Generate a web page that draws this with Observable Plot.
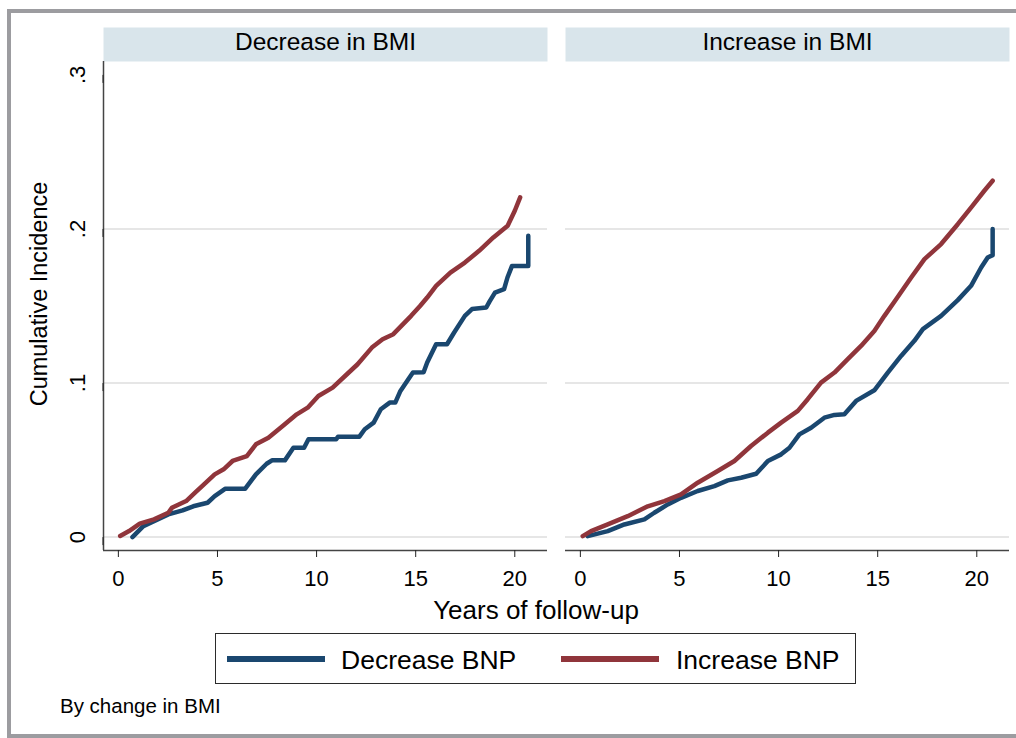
<!DOCTYPE html>
<html>
<head>
<meta charset="utf-8">
<script src="https://cdn.jsdelivr.net/npm/d3@7"></script>
<script src="https://cdn.jsdelivr.net/npm/@observablehq/plot@0.6"></script>
<style>
  html, body { margin: 0; padding: 0; background: #fff; width: 1016px; height: 738px; overflow: hidden;
    font-family: "Liberation Sans", Arial, Helvetica, sans-serif; }
  #page { position: relative; width: 1016px; height: 738px; overflow: hidden; }
  #frame { position: absolute; left: 7px; top: 9px; width: 1040px; height: 729px; box-sizing: border-box;
    border: 4px solid #9c9ca0; }
  #chart { position: absolute; left: 0; top: 0; }
  .t { position: absolute; line-height: 1; white-space: nowrap; color: #000; }
  #legend { position: absolute; left: 215px; top: 633px; width: 641px; height: 51px; box-sizing: border-box;
    border: 1.5px solid #2b2b2b; background: #fff; }
  .sw { position: absolute; height: 6px; width: 98px; top: 656px; }
</style>
</head>
<body>
<div id="page">
  <div id="frame"></div>
  <div id="chart"></div>
  <div id="xtitle" class="t" style="left:336px;width:400px;text-align:center;top:597px;font-size:26px;"></div>
  <div id="legend"></div>
  <div id="sw0" class="sw" style="left:227px;"></div>
  <div id="lg0" class="t" style="left:341px;top:647px;font-size:26.5px;"></div>
  <div id="sw1" class="sw" style="left:561px;"></div>
  <div id="lg1" class="t" style="left:676px;top:647px;font-size:26.5px;"></div>
  <div id="caption" class="t" style="left:60px;top:696px;font-size:20.5px;"></div>
</div>
<script>
// ---- labels, categories, ticks ----
const panels = ["Decrease in BMI", "Increase in BMI"];
const seriesNames = ["Decrease BNP", "Increase BNP"];
const seriesColors = ["#1a476f", "#90353b"];
const xTicks = [0, 5, 10, 15, 20];
const yTicks = [0, 0.1, 0.2, 0.3];
const yTickLabels = ["0", ".1", ".2", ".3"];
const gridTicks = [0, 0.1, 0.2];
const xDomain = [-0.75, 21.65];
const yDomain = [-0.0087, 0.3087];
const xTitle = "Years of follow-up";
const yTitle = "Cumulative Incidence";
const captionText = "By change in BMI";

// ---- series values: [years, cumulative incidence] ----
const decBMI_decBNP = [[0.71,0],[1.26,0.0071],[2.52,0.0147],[3.24,0.0173],[3.78,0.020],[4.5,0.0223],[4.86,0.0266],
  [5.4,0.0314],[6.4,0.0314],[6.94,0.0407],[7.48,0.0476],[7.75,0.0498],[8.4,0.0498],[8.83,0.058],[9.37,0.058],
  [9.59,0.0635],[10.99,0.0635],[11.08,0.0652],[12.16,0.0652],[12.43,0.070],[12.88,0.0743],[13.24,0.083],
  [13.69,0.0873],[13.97,0.0873],[14.23,0.0949],[14.68,0.1035],[14.86,0.1068],[15.4,0.107],[15.58,0.1133],
  [16.03,0.1252],[16.58,0.1252],[16.94,0.1328],[17.48,0.1436],[17.84,0.148],[18.56,0.149],[18.73,0.153],
  [19.0,0.1587],[19.46,0.1609],[19.63,0.1685],[19.86,0.176],[20.68,0.176],[20.68,0.1956]];
const decBMI_incBNP = [[0.09,0.0007],[0.54,0.0039],[1.08,0.0087],[1.8,0.0115],[2.52,0.0158],[2.7,0.019],
  [3.42,0.0234],[3.87,0.0288],[4.32,0.0342],[4.86,0.0407],[5.31,0.044],[5.76,0.0494],[6.48,0.0526],[6.94,0.0602],
  [7.57,0.0645],[8.29,0.0721],[9.0,0.0797],[9.55,0.084],[10.09,0.0916],[10.81,0.097],[11.53,0.1057],[12.07,0.1122],
  [12.79,0.123],[13.33,0.1284],[13.87,0.1317],[14.77,0.1436],[15.22,0.150],[15.58,0.1555],[16.03,0.1631],
  [16.75,0.1717],[17.48,0.1782],[18.2,0.1858],[18.92,0.1945],[19.64,0.2021],[20.0,0.2118],[20.27,0.2205]];
const incBMI_decBNP = [[0.37,0.0006],[1.38,0.0039],[2.22,0.0082],[3.23,0.0115],[3.73,0.0158],[4.41,0.0212],
  [5.08,0.0255],[5.92,0.0299],[6.76,0.0331],[7.44,0.0368],[8.11,0.0385],[8.87,0.0411],[9.46,0.0494],[10.13,0.0537],
  [10.55,0.058],[11.05,0.0667],[11.64,0.071],[12.31,0.0775],[12.82,0.0793],[13.32,0.0797],[13.91,0.0884],
  [14.83,0.0953],[15.51,0.1068],[16.18,0.1176],[16.85,0.1274],[17.28,0.135],[18.2,0.1436],[19.04,0.1538],
  [19.71,0.1631],[20.22,0.175],[20.55,0.1815],[20.8,0.183],[20.8,0.2]];
const incBMI_incBNP = [[0.12,0.0006],[0.54,0.0039],[1.38,0.0082],[2.39,0.0136],[3.4,0.02],[4.24,0.0234],
  [5.08,0.0277],[5.92,0.0353],[6.93,0.0429],[7.77,0.0494],[8.61,0.0591],[9.46,0.0678],[10.13,0.0743],
  [10.97,0.0819],[11.47,0.0895],[12.14,0.1003],[12.82,0.1068],[13.49,0.1155],[14.16,0.1241],[14.83,0.1338],
  [15.34,0.1436],[15.93,0.1544],[16.69,0.1685],[17.36,0.1804],[18.2,0.1902],[19.04,0.2031],[19.71,0.2139],
  [20.38,0.2248],[20.8,0.2313]];

// ---- build the table for the library ----
const rows = [];
function add(panel, series, pts) { for (const [t, v] of pts) rows.push({panel, series, t, v}); }
add(panels[0], seriesNames[0], decBMI_decBNP);
add(panels[1], seriesNames[0], incBMI_decBNP);
add(panels[0], seriesNames[1], decBMI_incBNP);
add(panels[1], seriesNames[1], incBMI_incBNP);

const chart = Plot.plot({
  width: 1016,
  height: 600,
  marginLeft: 103,
  marginRight: 7,
  marginTop: 61,
  marginBottom: 50,
  style: {fontFamily: '"Liberation Sans", Arial, Helvetica, sans-serif', background: "transparent", color: "#000"},
  fx: {domain: panels, paddingInner: 18 / 462, paddingOuter: 0, axis: null},
  x: {domain: xDomain},
  y: {domain: yDomain},
  color: {domain: seriesNames, range: seriesColors},
  marks: [
    Plot.frame({fill: "#d9e5eb", stroke: "none", insetTop: -34, insetBottom: 489}),
    Plot.text(panels, {fx: d => d, text: d => d, frameAnchor: "top", lineAnchor: "middle", textAnchor: "middle",
      dy: -19, fontSize: 24.5, fill: "#000"}),
    Plot.gridY(gridTicks, {stroke: "#e6e6e6", strokeOpacity: 1, strokeWidth: 2}),
    Plot.ruleY([yDomain[0]], {stroke: "#444", strokeWidth: 1.5}),
    Plot.ruleX([{fx: panels[0], x: xDomain[0]}], {fx: "fx", x: "x", stroke: "#444", strokeWidth: 1.5}),
    Plot.axisX({ticks: xTicks, tickSize: 7, tickPadding: 13, fontSize: 22, label: null, stroke: "#222", fill: "#000"}),
    Plot.axisY({ticks: yTicks, tickFormat: d => yTickLabels[yTicks.indexOf(d)], tickSize: 8, tickPadding: 18,
      fontSize: 22, rotate: -90, textAnchor: "middle", lineAnchor: "middle", label: null, stroke: "#222", fill: "#000",
      facetAnchor: "left"}),
    Plot.text([{fx: panels[0], label: yTitle}], {fx: "fx", text: "label", frameAnchor: "left", rotate: -90,
      textAnchor: "middle", lineAnchor: "middle", dx: -64, dy: -12, fontSize: 23.5, fill: "#000"}),
    Plot.line(rows, {x: "t", y: "v", z: "series", stroke: "series", fx: "panel", strokeWidth: 4.5,
      strokeLinejoin: "round"})
  ]
});
document.getElementById("chart").appendChild(chart);

document.getElementById("xtitle").textContent = xTitle;
document.getElementById("caption").textContent = captionText;
document.getElementById("lg0").textContent = seriesNames[0];
document.getElementById("lg1").textContent = seriesNames[1];
document.getElementById("sw0").style.background = seriesColors[0];
document.getElementById("sw1").style.background = seriesColors[1];
</script>
</body>
</html>
